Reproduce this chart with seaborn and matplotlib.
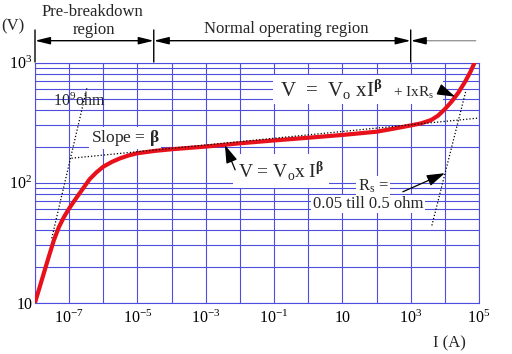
import numpy as np
import pandas as pd
import matplotlib
matplotlib.use("Agg")
import matplotlib.pyplot as plt
import seaborn as sns
from matplotlib.patches import Rectangle
from matplotlib.ticker import FixedLocator, NullLocator, LogLocator, NullFormatter

# Curva V-I (lectura de la figura)
curve_current = [1e-8, 10**-7.8, 10**-7.6, 10**-7.45, 10**-7.3, 10**-7.15, 1e-7, 10**-6.8,
                 10**-6.6, 10**-6.4, 10**-6.2, 1e-6, 10**-5.75, 10**-5.5, 10**-5.25, 1e-5,
                 10**-4.5, 1e-4, 1e-3, 1e-2, 1e-1, 1.0, 10.0, 100.0, 10**2.5, 1e3, 10**3.3,
                 10**3.6, 10**3.8, 1e4, 10**4.2, 10**4.4, 10**4.6, 10**4.75, 10**4.87]
curve_voltage = [10, 15.5, 24, 33, 42.7, 51.9, 61, 74, 89, 107, 122, 136, 149, 160, 169, 176,
                 184, 190, 200, 213, 225, 237, 250, 266, 282, 300, 312, 333, 362, 410, 475,
                 565, 700, 840, 1000]

# Lineas guia punteadas
ohm_current = [10**-7.51, 10**-6.48]
ohm_voltage = [34.4, 615]
slope_current = [10**-6.93, 1e5]
slope_voltage = [160, 346]
rs_current = [10**3.62, 10**4.62]
rs_voltage = [44, 590]

# Flechas de anotacion (cola, punta)
vo_arrow = [(10**-2.14, 128), (10**-2.44, 206)]
full_arrow = [(10**4.0, 570), (10**4.3, 521)]
rs_arrow = [(10**2.77, 84), (10**4.0, 120)]

# Regiones
region_edges = [1e-8, 3e-5, 1e3]
region_line_end = 8e4

x_ticks = [10.0**k for k in range(-8, 6)]
x_tick_labels = ['', r'$10^{-7}$', '', r'$10^{-5}$', '', r'$10^{-3}$', '', r'$10^{-1}$',
                 '', '10', '', r'$10^{3}$', '', r'$10^{5}$']
y_ticks = [10, 100, 1000]
y_tick_labels = ['10', r'$10^{2}$', r'$10^{3}$']

sns.set_theme(style='white')
plt.rcParams['font.family'] = ['Liberation Serif', 'DejaVu Serif']
plt.rcParams['mathtext.fontset'] = 'custom'
plt.rcParams['mathtext.rm'] = 'Liberation Serif'
plt.rcParams['mathtext.it'] = 'Liberation Serif:italic'
plt.rcParams['mathtext.bf'] = 'Liberation Serif:bold'

W, H = 512, 354
fig = plt.figure(figsize=(W / 100, H / 100), dpi=100)
ax = fig.add_axes([35 / W, 1 - 302.7 / H, 444 / W, 240 / H])

grid_c = '#4e4ede'
ax.set_xscale('log')
ax.set_yscale('log')
ax.set_xlim(1e-8, 1e5)
ax.set_ylim(10, 1000)
ax.xaxis.set_major_locator(FixedLocator(x_ticks))
ax.set_xticklabels(x_tick_labels)
ax.xaxis.set_minor_locator(NullLocator())
ax.yaxis.set_major_locator(FixedLocator(y_ticks))
ax.set_yticklabels(y_tick_labels)
ax.yaxis.set_minor_locator(LogLocator(base=10, subs=np.arange(2, 10)))
ax.yaxis.set_minor_formatter(NullFormatter())
ax.grid(which='both', color=grid_c, lw=0.8)
ax.tick_params(which='both', length=0, labelsize=11.5, colors='black')
ax.tick_params(axis='x', pad=5)
ax.tick_params(axis='y', pad=2)
for s in ax.spines.values():
    s.set_color(grid_c)
    s.set_linewidth(0.8)

df = pd.DataFrame({'I': curve_current, 'V': curve_voltage})
sns.lineplot(data=df, x='I', y='V', sort=False, color='#e8101a', lw=3.0, ax=ax, zorder=3)
ax.set_xlabel('')
ax.set_ylabel('')

dot = (0, (1, 1.6))
ax.plot(ohm_current, ohm_voltage, color='black', lw=0.9, ls=dot, zorder=4)
ax.plot(slope_current, slope_voltage, color='black', lw=0.9, ls=dot, zorder=4, clip_on=False)
ax.plot(rs_current, rs_voltage, color='black', lw=0.9, ls=dot, zorder=4)

def fx(px):
    return px / W

def fy(py):
    return 1 - py / H

box = dict(facecolor='white', edgecolor='none', pad=1.0)

# Textos exteriores
fig.text(fx(13), fy(26), '(V)', fontsize=12, ha='center', va='center')
fig.text(fx(92), fy(12), 'Pre-breakdown', fontsize=12, ha='center', va='center')
fig.text(fx(94), fy(30), 'region', fontsize=12, ha='center', va='center')
fig.text(fx(286), fy(29), 'Normal operating region', fontsize=12, ha='center', va='center')
fig.text(fx(449), fy(343), 'I (A)', fontsize=12, ha='center', va='center')

# Corchetes de regiones
bar_lo, bar_hi, line_y = H - 62, H - 30, H - 40.7
head = '-|>,head_length=0.9,head_width=0.22'
for e in region_edges:
    ax.annotate('', xy=(e, bar_lo), xytext=(e, bar_hi), xycoords=('data', 'figure pixels'),
                textcoords=('data', 'figure pixels'), annotation_clip=False,
                arrowprops=dict(arrowstyle='-', color='black', lw=1.0, shrinkA=0, shrinkB=0))
for a, b in zip(region_edges[:-1], region_edges[1:]):
    ax.annotate('', xy=(a, line_y), xytext=(b, line_y), xycoords=('data', 'figure pixels'),
                textcoords=('data', 'figure pixels'), annotation_clip=False,
                arrowprops=dict(arrowstyle='<|-|>,head_length=0.9,head_width=0.22', color='black',
                                lw=1.0, shrinkA=0, shrinkB=0, mutation_scale=10))
ax.annotate('', xy=(region_line_end, line_y), xytext=(10**3.4, line_y),
            xycoords=('data', 'figure pixels'), textcoords=('data', 'figure pixels'),
            annotation_clip=False,
            arrowprops=dict(arrowstyle='-', color='#999999', lw=1.0, shrinkA=0, shrinkB=0))
ax.annotate('', xy=(region_edges[-1], line_y), xytext=(10**3.45, line_y),
            xycoords=('data', 'figure pixels'), textcoords=('data', 'figure pixels'),
            annotation_clip=False,
            arrowprops=dict(arrowstyle=head, color='black', lw=1.0, shrinkA=0, shrinkB=0,
                            mutation_scale=10))

# Textos interiores (debajo de la curva, encima de la rejilla)
tf = fig.transFigure
ax.text(fx(79), fy(101), r'10$^{9}$ohm', fontsize=11.5, ha='center', va='center',
        transform=tf, zorder=2.5, clip_on=False)
ax.text(fx(125), fy(138), r'Slope = $\mathbf{β}$', fontsize=12.5, ha='center', va='center',
        transform=tf, bbox=box, zorder=2.5, clip_on=False)
ax.text(fx(281), fy(171), r'V = V$_{\mathrm{o}}$x I$^{\mathbf{β}}$', fontsize=14,
        ha='center', va='center', transform=tf,
        bbox=dict(facecolor='white', edgecolor='none', pad=3.5), zorder=2.5, clip_on=False)

ax.add_patch(Rectangle((fx(273), fy(104)), (443 - 273) / W, 29 / H, transform=tf,
                       facecolor='white', edgecolor='none', zorder=2.4, clip_on=False))
ax.text(fx(280), fy(97), r'V  =  V$_{\mathrm{o}}$ xI$^{\mathbf{β}}$', fontsize=15,
        ha='left', va='baseline', transform=tf, zorder=2.5, clip_on=False)
ax.text(fx(393), fy(97), r'+ IxR$_{\mathrm{s}}$', fontsize=11, ha='left', va='baseline',
        transform=tf, zorder=2.5, clip_on=False)
ax.text(fx(373), fy(186), r'R$_{\mathrm{s}}$ =', fontsize=12, ha='center', va='center',
        transform=tf, bbox=box, zorder=2.5, clip_on=False)
ax.text(fx(368), fy(204), '0.05 till 0.5 ohm', fontsize=12, ha='center', va='center',
        transform=tf, bbox=box, zorder=2.5, clip_on=False)

arrow_props = dict(arrowstyle='-|>,head_length=1.1,head_width=0.35', color='black', lw=0.9,
                   shrinkA=0, shrinkB=0, mutation_scale=10)
for tail, tip in [vo_arrow, full_arrow, rs_arrow]:
    ax.annotate('', xy=tip, xytext=tail, arrowprops=arrow_props, zorder=6)

fig.savefig('out.png', dpi=100)
